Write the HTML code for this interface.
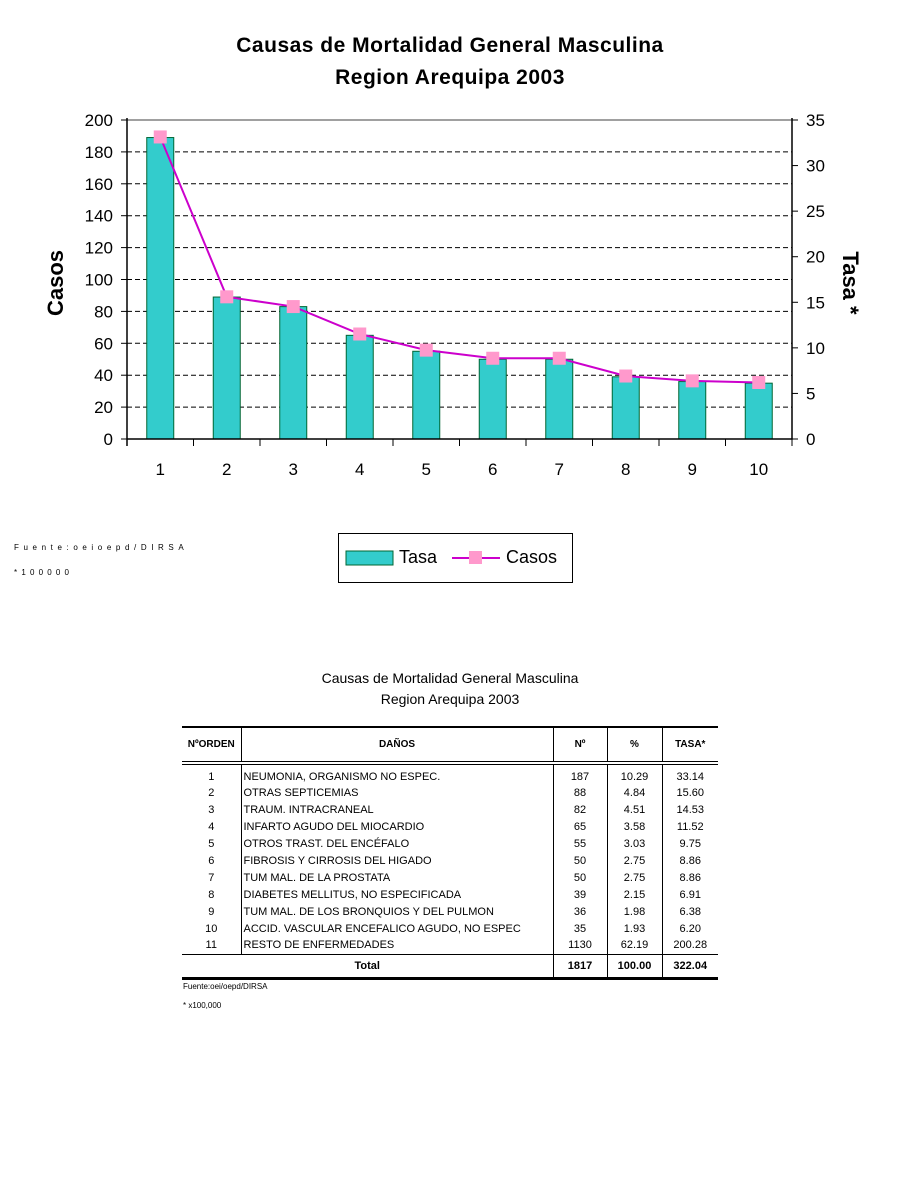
<!DOCTYPE html>
<html><head><meta charset="utf-8"><style>
body{margin:0;background:#fff;font-family:"Liberation Sans",Arial,sans-serif}
#wrap{position:relative;width:900px;height:1200px;overflow:hidden}
table{border-collapse:collapse}
</style></head><body><div id="wrap">
<svg id="chart" width="900" height="600" style="position:absolute;left:0;top:0" font-family="Liberation Sans, Arial, sans-serif">
<text x="450" y="52" text-anchor="middle" font-size="21" font-weight="bold" letter-spacing="0.5">Causas de Mortalidad General Masculina</text>
<text x="450" y="84" text-anchor="middle" font-size="21" font-weight="bold" letter-spacing="0.5">Region Arequipa 2003</text>
<text transform="translate(63,283) rotate(-90)" text-anchor="middle" font-size="22" font-weight="bold">Casos</text>
<text transform="translate(843,283) rotate(90)" text-anchor="middle" font-size="22" font-weight="bold">Tasa *</text>
<g id="g"></g>
<text x="14" y="550" font-size="8" letter-spacing="4.6">Fuente:oeioepd/DIRSA</text>
<text x="14" y="575" font-size="8" letter-spacing="4.2">*100000</text>
<rect x="338.5" y="533.5" width="234" height="49" fill="#fff" stroke="#000"/>
<rect x="346" y="551" width="47" height="14" fill="#33cccc" stroke="#006633"/>
<text x="399" y="563" font-size="18">Tasa</text>
<line x1="452" y1="558" x2="500" y2="558" stroke="#cc00cc" stroke-width="2"/>
<rect x="469" y="551" width="13" height="13" fill="#ff99cc"/>
<text x="506" y="563" font-size="18">Casos</text>
</svg>
<script>
const categories=["1","2","3","4","5","6","7","8","9","10"];
const barValues=[189,89,83,65,55,50,50,39,36,35];
const lineValues=[33.14,15.60,14.53,11.52,9.75,8.86,8.86,6.91,6.38,6.20];
const leftTicks=[0,20,40,60,80,100,120,140,160,180,200];
const rightTicks=[0,5,10,15,20,25,30,35];
const L=127,R=792,T=120,B=439;
const yL=v=>B-(v/200)*(B-T), yR=v=>B-(v/35)*(B-T);
const bw=(R-L)/categories.length, xC=i=>L+bw*(i+0.5);
const ns="http://www.w3.org/2000/svg",g=document.getElementById('g');
function mk(t,a){const e=document.createElementNS(ns,t);for(const k in a)e.setAttribute(k,a[k]);g.appendChild(e);return e;}
leftTicks.forEach(v=>{const y=yL(v);
 if(v>0&&v<200){const l=mk('line',{x1:L,y1:y,x2:R,y2:y,stroke:'#000','stroke-dasharray':'5,3'});
 
 }
 const tk=mk('line',{x1:L-6,y1:y,x2:L,y2:y,stroke:'#000'});
 
 
 const t=mk('text',{x:113,y:y+6,'text-anchor':'end','font-size':'17'});t.textContent=v;
 
 });
const topBorder=mk('line',{x1:L,y1:T,x2:R,y2:T,stroke:'#808080','stroke-width':'1.5'});


rightTicks.forEach(v=>{const y=yR(v);
 const tk=mk('line',{x1:R,y1:y,x2:R+6,y2:y,stroke:'#000'});
 
 
 const t=mk('text',{x:806,y:y+6,'font-size':'17'});t.textContent=v;
 
 });
categories.forEach((c,i)=>{
 const b=mk('rect',{x:xC(i)-13.5,y:yL(barValues[i]),width:27,height:B-yL(barValues[i]),fill:'#33cccc',stroke:'#006633'});
 
 
 const t=mk('text',{x:xC(i),y:475,'text-anchor':'middle','font-size':'17'});t.textContent=c;
 
 
 const tk=mk('line',{x1:L+bw*(i+1),y1:B,x2:L+bw*(i+1),y2:B+7,stroke:'#000'});
 
 });
const ax=mk('path',{d:`M${L},${T-2}V${B}H${R}V${T-2}M${L},${B}v7`,stroke:'#000',fill:'none','stroke-width':'1.5'});


const ln=mk('polyline',{points:lineValues.map((v,i)=>xC(i)+','+yR(v)).join(' '),fill:'none',stroke:'#cc00cc','stroke-width':'2'});


lineValues.forEach((v,i)=>{const m=mk('rect',{x:xC(i)-6.5,y:yR(v)-6.5,width:13,height:13,fill:'#ff99cc'});
 
 });
</script>
<div style="position:absolute;left:0;width:900px;top:668px;text-align:center;font-size:14px;line-height:21px">Causas de Mortalidad General Masculina<br>Region Arequipa 2003</div>
<table style="position:absolute;left:182px;top:726px;width:536px;font-size:11px;border-top:2px solid #000;border-bottom:3px solid #000">
<colgroup><col style="width:59px"><col style="width:312px"><col style="width:54px"><col style="width:55px"><col style="width:56px"></colgroup>
<tr style="height:36px;font-weight:bold;font-size:10px;border-bottom:4px double #000">
<td style="text-align:center">NºORDEN</td><td style="text-align:center;border-left:1px solid #000">DAÑOS</td><td style="text-align:center;border-left:1px solid #000">Nº</td><td style="text-align:center;border-left:1px solid #000">%</td><td style="text-align:center;border-left:1px solid #000">TASA*</td></tr>
<tbody id="tb"></tbody>
<tr style="height:24px;font-weight:bold;border-top:1px solid #000"><td colspan="2" style="text-align:center">Total</td><td style="text-align:center;border-left:1px solid #000">1817</td><td style="text-align:center;border-left:1px solid #000">100.00</td><td style="text-align:center;border-left:1px solid #000">322.04</td></tr>
</table>
<script>
const rows=[["1","NEUMONIA, ORGANISMO NO ESPEC.","187","10.29","33.14"],["2","OTRAS SEPTICEMIAS","88","4.84","15.60"],["3","TRAUM. INTRACRANEAL","82","4.51","14.53"],["4","INFARTO AGUDO DEL MIOCARDIO","65","3.58","11.52"],["5","OTROS TRAST. DEL ENCÉFALO","55","3.03","9.75"],["6","FIBROSIS Y CIRROSIS DEL HIGADO","50","2.75","8.86"],["7","TUM MAL. DE LA PROSTATA","50","2.75","8.86"],["8","DIABETES MELLITUS, NO ESPECIFICADA","39","2.15","6.91"],["9","TUM MAL. DE LOS BRONQUIOS Y DEL PULMON","36","1.98","6.38"],["10","ACCID. VASCULAR ENCEFALICO AGUDO, NO ESPEC","35","1.93","6.20"],["11","RESTO DE ENFERMEDADES","1130","62.19","200.28"]];
const tb=document.getElementById('tb');
rows.forEach((r,i)=>{const tr=document.createElement('tr');tr.style.height=(i==0?'21px':'17px');
 
 
 r.forEach((c,j)=>{const td=document.createElement('td');td.textContent=c;td.style.padding='0 2px';
 td.style.textAlign=j==1?'left':'center';if(j>0)td.style.borderLeft='1px solid #000';
 if(i==0)td.style.paddingTop='4px';tr.appendChild(td);});tb.appendChild(tr);});
</script>
<div style="position:absolute;left:183px;top:982px;font-size:8px">Fuente:oei/oepd/DIRSA</div>
<div style="position:absolute;left:183px;top:1001px;font-size:8px">* x100,000</div>
</div></body></html>
